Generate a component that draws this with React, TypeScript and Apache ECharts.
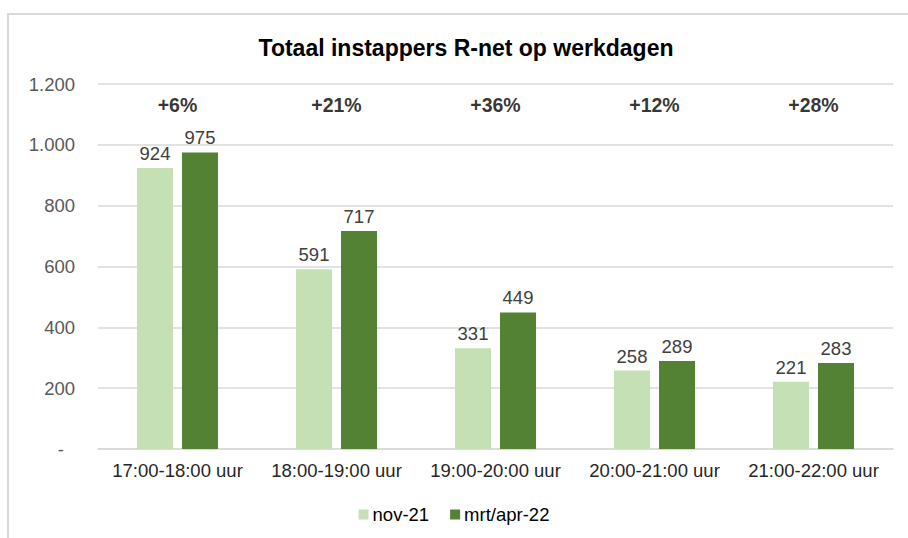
import React, { useEffect, useRef } from "react";
import * as echarts from "echarts";

const categories = [
  "17:00-18:00 uur",
  "18:00-19:00 uur",
  "19:00-20:00 uur",
  "20:00-21:00 uur",
  "21:00-22:00 uur",
];
const nov21 = [924, 591, 331, 258, 221];
const mrtApr22 = [975, 717, 449, 289, 283];
const changeLabels = ["+6%", "+21%", "+36%", "+12%", "+28%"];
const seriesNames = ["nov-21", "mrt/apr-22"];
const yTicks = [0, 200, 400, 600, 800, 1000, 1200];

const CHANGE_LABEL_LEVEL = 1132;
const SANS = "'Liberation Sans', Arial, sans-serif";

function fmtY(v: number): string {
  if (v === 0) return "{d|-}";
  return String(v).replace(/\B(?=(\d{3})+(?!\d))/g, ".");
}

export default function App() {
  const ref = useRef<HTMLDivElement>(null);
  useEffect(() => {
    if (!ref.current) return;
    const chart = echarts.init(ref.current, undefined, { renderer: "svg" });
    chart.setOption({
      animation: false,
      backgroundColor: "#ffffff",
      graphic: [
        {
          type: "rect",
          silent: true,
          z: -10,
          shape: { x: 8, y: 14, width: 1000, height: 700 },
          style: { fill: "none", stroke: "#d9d9d9", lineWidth: 2 },
        },
      ],
      title: {
        text: "Totaal instappers R-net op werkdagen",
        left: 461,
        textAlign: "center",
        top: 31,
        textStyle: {
          fontFamily: SANS,
          fontWeight: "bold",
          fontSize: 23,
          color: "#000000",
        },
      },
      legend: {
        data: seriesNames,
        left: "center",
        top: 500,
        itemWidth: 10,
        itemHeight: 10,
        itemGap: 21,
        icon: "rect",
        textStyle: { fontFamily: SANS, fontSize: 18.5, color: "#000000", padding: [0, 0, 0, -1] },
      },
      grid: { left: 98, right: 15, top: 84, bottom: 89, containLabel: false },
      xAxis: {
        type: "category",
        data: categories,
        axisLine: { show: true, lineStyle: { color: "#d9d9d9", width: 1.5 } },
        axisTick: { show: false },
        axisLabel: {
          interval: 0,
          fontFamily: SANS,
          fontSize: 18.5,
          color: "#262626",
          margin: 12,
        },
      },
      yAxis: {
        type: "value",
        min: yTicks[0],
        max: yTicks[yTicks.length - 1],
        interval: 200,
        axisLine: { show: false },
        axisTick: { show: false },
        splitLine: { lineStyle: { color: "#d9d9d9", width: 1.5 } },
        axisLabel: {
          fontFamily: SANS,
          fontSize: 18.5,
          color: "#595959",
          margin: 23,
          formatter: fmtY,
          rich: {
            d: { fontFamily: SANS, fontSize: 18.5, color: "#595959", padding: [0, 11, 0, 0] },
          },
        },
      },
      series: [
        {
          name: seriesNames[0],
          type: "bar",
          data: nov21,
          barWidth: 36,
          barGap: "25%",
          itemStyle: { color: "#c5e0b4" },
          label: {
            show: true,
            position: "top",
            distance: 5,
            fontFamily: SANS,
            fontSize: 18.5,
            color: "#404040",
          },
        },
        {
          name: seriesNames[1],
          type: "bar",
          data: mrtApr22,
          barWidth: 36,
          barGap: "25%",
          itemStyle: { color: "#548235" },
          label: {
            show: true,
            position: "top",
            distance: 5,
            fontFamily: SANS,
            fontSize: 18.5,
            color: "#404040",
          },
        },
        {
          name: "change",
          type: "scatter",
          data: changeLabels.map(() => CHANGE_LABEL_LEVEL),
          symbolSize: 0,
          silent: true,
          label: {
            show: true,
            position: "inside",
            formatter: (p: any) => changeLabels[p.dataIndex],
            fontFamily: SANS,
            fontWeight: "bold",
            fontSize: 19.5,
            color: "#000000",
          },
        },
      ],
    });
    return () => chart.dispose();
  }, []);
  return (
    <div
      ref={ref}
      style={{ position: "fixed", left: 0, top: 0, width: 908, height: 538 }}
    />
  );
}
